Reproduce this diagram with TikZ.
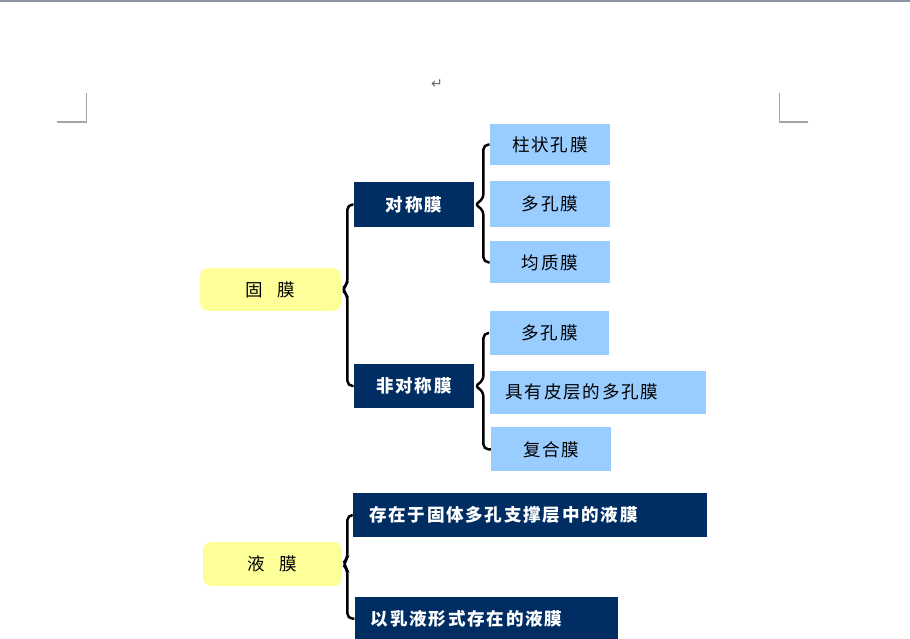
\documentclass[tikz,border=0pt]{standalone}
\usepackage{fontspec}
\newfontfamily\cjk[LetterSpace=10]{Noto Sans CJK SC}
\newfontfamily\symbfont{DejaVu Sans}
\definecolor{mnavy}{RGB}{0, 46, 99}
\definecolor{mleaf}{RGB}{153, 204, 255}
\definecolor{mroot}{RGB}{255, 255, 153}
\definecolor{mpage}{RGB}{140, 146, 162}
\definecolor{mcorner}{RGB}{165, 165, 165}
\usetikzlibrary{calc, positioning}

\begin{document}
\begin{tikzpicture}[
    x=0.02cm, y=-0.02cm,
    font=\cjk\fontsize{10pt}{12pt}\selectfont,
    root/.style={fill=mroot, rounded corners=0.16cm, minimum width=2.82cm,
                 minimum height=0.86cm, inner sep=0pt},
    mid/.style={fill=mnavy, text=white, font=\cjk\bfseries\fontsize{10pt}{12pt}\selectfont,
                minimum width=2.4cm, minimum height=0.9cm, inner sep=0pt},
    leaf/.style={fill=mleaf, minimum width=2.4cm, minimum height=0.86cm, inner sep=0pt},
    wide/.style={text width=#1, align=left, inner xsep=0.32cm},
    brc/.style={line width=1.4pt, rounded corners=3pt},
    cornermark/.style={draw=mcorner, line width=0.6pt}
  ]
    \useasboundingbox (0,0) rectangle (910,639);
    % page frame of the screenshot
    \fill[mpage] (0,0) rectangle (910,2.5);
    \draw[cornermark] (57,122) -- (86.5,122) -- (86.5,93);
    \draw[cornermark] (808,122) -- (779.5,122) -- (779.5,93);
    \node[text=black!60, font=\symbfont\fontsize{8pt}{9pt}\selectfont] (ret) at (437,84) {↵};

    % solid membranes
    \node[root] (guomo) at (270.5,289.5) {固\hspace{0.8em}膜};
    \node[mid] (duichen) at (414,204.5) {对称膜};
    \node[mid, minimum height=0.88cm] (feiduichen) at (414,386) {非对称膜};

    \node[leaf, minimum height=0.82cm] (zhuzhuang) at (550,144.5) {柱状孔膜};
    \node[leaf, below=0.3cm of zhuzhuang, minimum height=0.92cm] (duokong) {多孔膜};
    \node[leaf, below=0.28cm of duokong, minimum height=0.84cm] (junzhi) {均质膜};

    \node[leaf, minimum height=0.88cm] (duokongb) at (549.5,333) {多孔膜};
    \node[leaf, wide=3.70cm, below=0.3cm of duokongb.south west, anchor=north west] (piceng) {具有皮层的多孔膜};
    \node[leaf, below=0.26cm of piceng.south west, anchor=north west, xshift=1, minimum height=0.88cm] (fuhe) {复合膜};

    % liquid membranes
    \node[root, minimum width=2.78cm, minimum height=0.88cm] (yemo) at (272.5,564) {液\hspace{0.8em}膜};
    \node[mid, wide=6.44cm, minimum height=0.88cm] (cunzai) at (530,515) {存在于固体多孔支撑层中的液膜};
    \node[mid, wide=4.62cm, minimum height=0.88cm, below=1.18cm of cunzai.south west,
          anchor=north west, xshift=1] (ruye) {以乳液形式存在的液膜};

    % braces
    \coordinate (v1) at ($(guomo.east)+(6,0)$);
    \draw[brc] (duichen.west) -- (duichen.west -| v1) -- ($(v1 |- guomo.east)+(0,-5)$)
      -- (guomo.east) -- ($(v1 |- guomo.east)+(0,5)$) -- (feiduichen.west -| v1) -- (feiduichen.west);
    \coordinate (v2) at ($(duichen.east)+(9,0)$);
    \draw[brc] (zhuzhuang.west) -- (zhuzhuang.west -| v2) -- ($(v2 |- duichen.east)+(0,-5)$)
      -- (duichen.east) -- ($(v2 |- duichen.east)+(0,5)$) -- (junzhi.west -| v2) -- (junzhi.west);
    \coordinate (v3) at ($(feiduichen.east)+(9,0)$);
    \draw[brc] (duokongb.west) -- (duokongb.west -| v3) -- ($(v3 |- feiduichen.east)+(0,-5)$)
      -- (feiduichen.east) -- ($(v3 |- feiduichen.east)+(0,5)$) -- (fuhe.west -| v3) -- (fuhe.west);
    \coordinate (v4) at ($(yemo.east)+(5,0)$);
    \draw[brc] (cunzai.west) -- (cunzai.west -| v4) -- ($(v4 |- yemo.east)+(0,-5)$)
      -- (yemo.east) -- ($(v4 |- yemo.east)+(0,5)$) -- (ruye.west -| v4) -- (ruye.west);
  \end{tikzpicture}
\end{document}
